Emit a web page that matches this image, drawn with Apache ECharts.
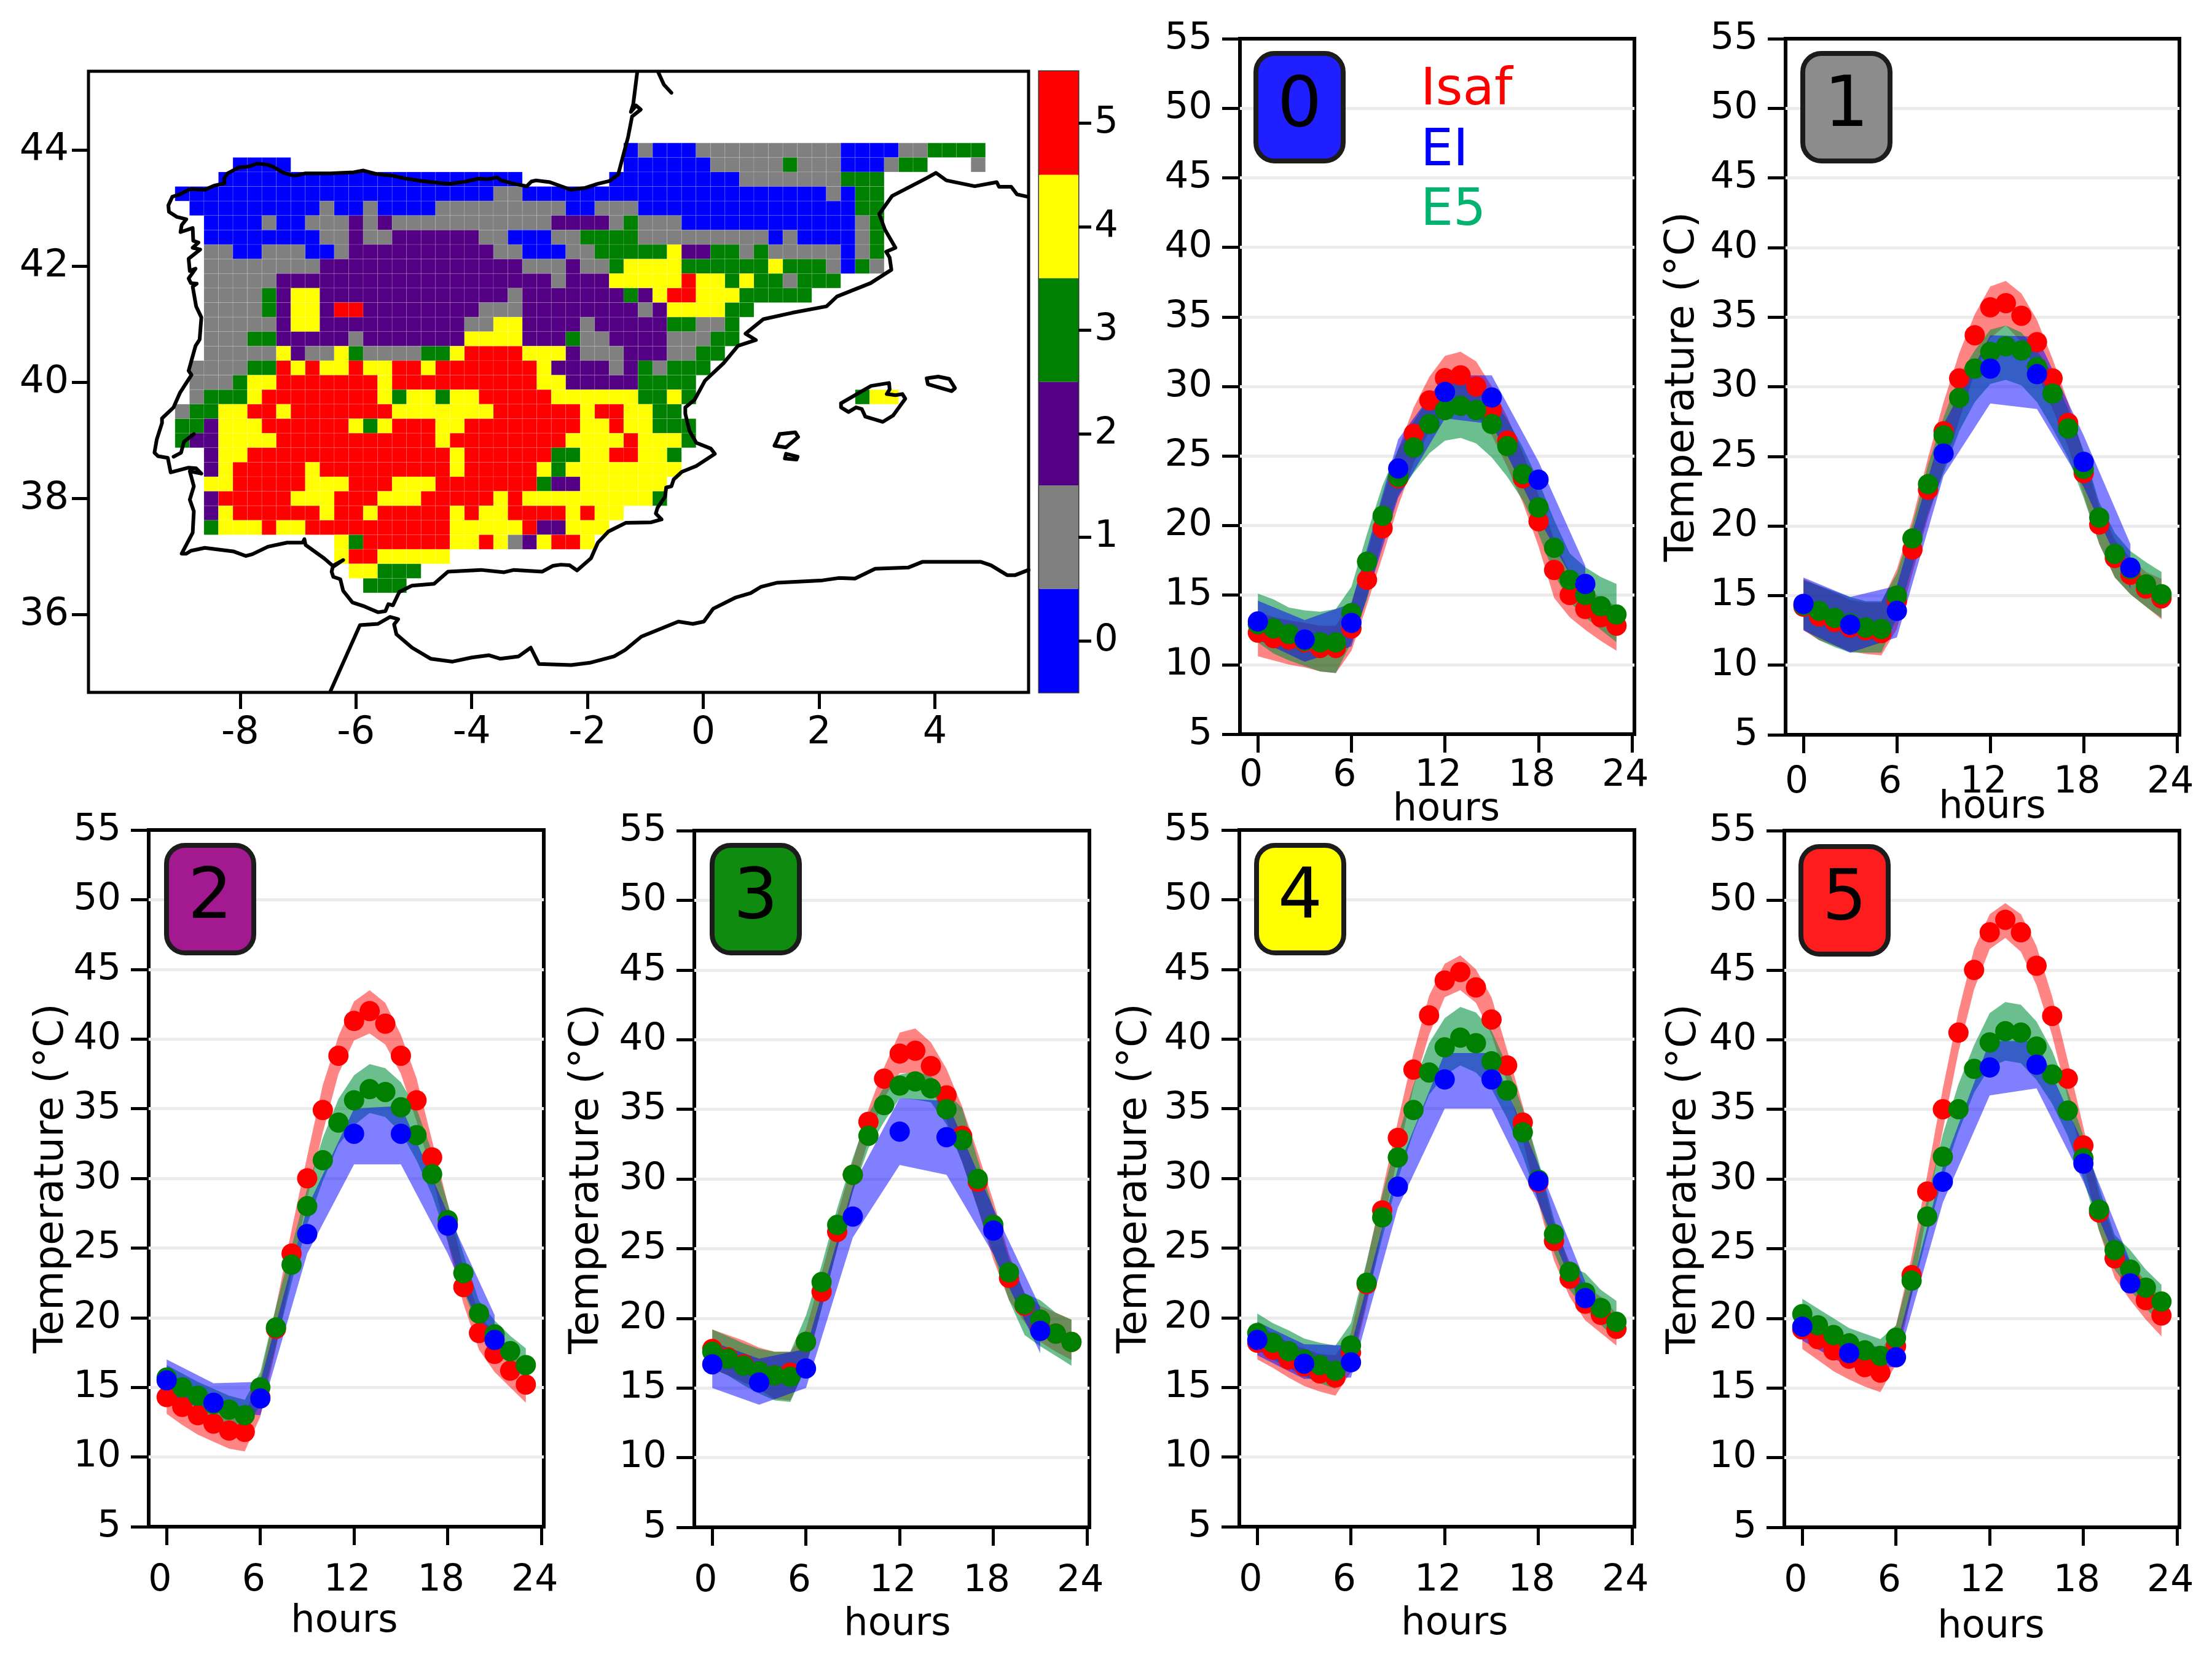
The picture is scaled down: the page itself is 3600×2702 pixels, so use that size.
<!DOCTYPE html>
<html>
<head>
<meta charset="utf-8">
<title>Iberia temperature clusters</title>
<script src="https://cdn.jsdelivr.net/npm/echarts@6/dist/echarts.min.js"></script>
<style>
  html, body { margin: 0; padding: 0; background: #fff; }
  #main { width: 3600px; height: 2702px; }
</style>
</head>
<body>
<div id="main"></div>
<script>
// hours of the day
const hours = [0, 1, 2, 3, 4, 5, 6, 7, 8, 9, 10, 11, 12, 13, 14, 15, 16, 17, 18, 19, 20, 21, 22, 23];
const hoursEI = [0, 3, 6, 9, 12, 15, 18, 21];
const hourTicks = [0, 6, 12, 18, 24];

// cluster 0
const isaf0 = [12.3, 11.9, 11.8, 11.6, 11.2, 11.2, 12.6, 16.1, 19.8, 23.4, 26.6, 29.0, 30.6, 30.8, 30.0, 28.3, 26.1, 23.4, 20.3, 16.8, 15.0, 14.0, 13.4, 12.8];
const isafUp0 = [13.8, 13.4, 13.2, 13.0, 12.8, 12.8, 14.5, 18.0, 22.0, 25.5, 28.5, 30.7, 32.2, 32.5, 31.8, 30.0, 27.8, 25.2, 22.2, 19.0, 16.6, 15.5, 14.8, 14.2];
const isafLo0 = [10.6, 10.3, 10.0, 9.8, 9.5, 9.4, 11.0, 14.3, 17.8, 21.4, 24.5, 26.8, 28.2, 28.6, 28.0, 26.5, 24.2, 21.6, 18.5, 14.8, 13.4, 12.5, 11.7, 11.0];
const e5m0 = [12.9, 12.6, 12.2, 11.7, 11.6, 11.6, 13.7, 17.4, 20.7, 23.5, 25.6, 27.3, 28.3, 28.6, 28.3, 27.3, 25.7, 23.7, 21.3, 18.4, 16.1, 15.0, 14.2, 13.6];
const e5Up0 = [15.1, 14.7, 14.1, 13.9, 13.8, 14.0, 15.6, 19.4, 22.9, 25.5, 27.5, 29.2, 30.2, 30.5, 30.2, 29.2, 27.6, 25.6, 23.2, 20.4, 18.0, 17.0, 16.3, 15.8];
const e5Lo0 = [11.6, 10.8, 10.3, 9.9, 9.5, 9.4, 11.6, 14.7, 18.9, 22.2, 23.8, 25.2, 26.1, 26.3, 25.9, 24.9, 23.5, 21.8, 19.4, 16.5, 14.5, 13.4, 12.5, 11.6];
const ei0 = [13.1, 11.8, 13.0, 24.1, 29.6, 29.2, 23.3, 15.8];
const eiUp0 = [14.6, 13.2, 14.4, 26.2, 30.8, 30.8, 24.6, 17.1];
const eiLo0 = [11.8, 10.2, 11.3, 22.0, 27.7, 27.3, 20.5, 14.5];

// cluster 1
const isaf1 = [14.2, 13.5, 13.1, 12.7, 12.5, 12.3, 14.6, 18.3, 22.6, 26.8, 30.6, 33.7, 35.7, 36.0, 35.1, 33.2, 30.6, 27.4, 23.8, 20.1, 17.7, 16.5, 15.5, 14.8];
const isafUp1 = [16.2, 15.7, 15.2, 14.7, 14.5, 14.5, 16.9, 20.5, 24.9, 28.9, 32.4, 35.2, 37.2, 37.6, 36.7, 34.8, 32.0, 28.9, 25.2, 21.4, 19.0, 17.7, 16.7, 16.2];
const isafLo1 = [12.5, 11.8, 11.4, 11.0, 10.8, 10.7, 12.6, 16.6, 20.6, 24.1, 27.6, 31.0, 33.5, 34.4, 33.2, 31.0, 28.4, 25.7, 22.2, 18.7, 16.3, 15.1, 14.2, 13.3];
const e5m1 = [14.3, 13.9, 13.4, 13.0, 12.7, 12.6, 15.0, 19.1, 23.0, 26.5, 29.2, 31.3, 32.5, 32.9, 32.6, 31.4, 29.5, 27.0, 24.1, 20.6, 18.0, 16.9, 15.8, 15.1];
const e5Up1 = [16.1, 15.7, 15.3, 14.9, 14.6, 14.6, 16.6, 20.1, 24.4, 27.8, 30.8, 32.6, 34.1, 34.4, 33.9, 32.6, 30.9, 28.4, 25.4, 21.7, 19.5, 18.2, 17.4, 16.7];
const e5Lo1 = [12.6, 11.8, 11.3, 10.9, 10.9, 10.9, 13.4, 17.1, 20.9, 23.8, 26.8, 28.9, 30.2, 30.5, 30.1, 28.9, 27.0, 24.9, 22.0, 18.7, 16.3, 15.1, 14.2, 13.4];
const ei1 = [14.4, 12.9, 13.9, 25.2, 31.3, 30.9, 24.6, 17.0];
const eiUp1 = [16.3, 14.9, 15.7, 27.3, 33.7, 33.6, 26.5, 18.7];
const eiLo1 = [12.5, 10.9, 12.0, 23.6, 28.8, 28.4, 22.8, 15.5];

// cluster 2
const isaf2 = [14.3, 13.6, 13.0, 12.4, 11.9, 11.8, 14.3, 19.2, 24.6, 30.0, 34.9, 38.8, 41.3, 42.0, 41.1, 38.8, 35.6, 31.5, 26.7, 22.2, 18.9, 17.4, 16.2, 15.2];
const isafUp2 = [15.6, 15.0, 14.4, 13.8, 13.3, 13.1, 15.7, 20.8, 26.3, 31.6, 36.7, 40.2, 42.7, 43.5, 42.6, 40.3, 37.2, 32.7, 28.2, 23.6, 20.3, 18.8, 17.5, 16.6];
const isafLo2 = [13.1, 12.3, 11.6, 11.1, 10.6, 10.4, 12.9, 17.8, 23.2, 28.5, 33.3, 37.5, 39.9, 40.4, 39.6, 37.5, 34.1, 30.3, 25.4, 21.0, 17.7, 16.1, 15.0, 13.9];
const e5m2 = [15.7, 15.0, 14.4, 13.8, 13.4, 13.0, 15.0, 19.3, 23.8, 28.0, 31.3, 34.0, 35.6, 36.4, 36.2, 35.1, 33.1, 30.3, 27.0, 23.2, 20.3, 18.8, 17.6, 16.6];
const e5Up2 = [16.6, 16.0, 15.4, 14.9, 14.4, 14.1, 16.1, 20.8, 25.1, 29.3, 32.9, 35.7, 37.4, 38.2, 37.9, 36.9, 35.0, 31.9, 28.2, 24.6, 21.2, 19.8, 18.7, 17.8];
const e5Lo2 = [14.6, 14.0, 13.3, 12.8, 12.3, 12.1, 13.7, 18.0, 22.5, 26.7, 29.8, 32.4, 33.8, 34.7, 34.4, 33.3, 31.3, 28.8, 25.5, 21.9, 19.2, 17.8, 16.6, 15.6];
const ei2 = [15.5, 13.9, 14.2, 26.0, 33.2, 33.2, 26.6, 18.4];
const eiUp2 = [17.0, 15.3, 15.4, 27.9, 35.0, 35.2, 27.5, 20.2];
const eiLo2 = [14.4, 13.2, 13.0, 24.6, 31.0, 31.0, 24.6, 17.0];

// cluster 3
const isaf3 = [17.8, 17.2, 16.7, 16.2, 15.9, 16.1, 18.3, 21.9, 26.2, 30.3, 34.1, 37.2, 39.0, 39.2, 38.1, 36.0, 33.1, 29.8, 26.4, 22.9, 20.9, 19.3, 18.9, 18.3];
const isafUp3 = [19.2, 18.8, 18.4, 17.9, 17.6, 17.6, 19.2, 23.2, 27.4, 31.3, 35.0, 38.0, 40.5, 40.8, 39.8, 37.9, 35.2, 31.9, 28.4, 24.6, 21.8, 20.9, 20.4, 19.9];
const isafLo3 = [16.4, 15.9, 15.4, 14.9, 14.2, 14.1, 16.5, 20.7, 25.0, 29.1, 32.8, 35.8, 37.6, 37.6, 36.5, 34.2, 31.2, 27.9, 24.2, 21.3, 19.7, 18.3, 17.6, 17.0];
const e5m3 = [17.6, 17.1, 16.6, 16.2, 15.9, 15.8, 18.3, 22.6, 26.7, 30.3, 33.1, 35.3, 36.7, 37.0, 36.5, 35.0, 32.8, 30.0, 26.7, 23.3, 21.0, 19.9, 18.9, 18.3];
const e5Up3 = [19.2, 18.7, 18.2, 17.8, 17.6, 17.6, 20.2, 23.8, 27.9, 31.5, 34.7, 36.6, 37.5, 37.7, 37.4, 36.2, 35.1, 31.4, 27.9, 24.3, 21.8, 21.3, 20.4, 19.9];
const e5Lo3 = [16.4, 15.9, 15.2, 14.6, 14.1, 14.0, 16.5, 20.7, 25.0, 29.1, 32.2, 34.1, 35.8, 35.7, 35.5, 33.9, 31.2, 27.9, 24.6, 21.3, 18.8, 18.0, 17.3, 16.6];
const ei3 = [16.7, 15.4, 16.4, 27.3, 33.4, 33.0, 26.3, 19.1];
const eiUp3 = [18.3, 17.1, 17.8, 29.5, 35.8, 35.6, 27.9, 20.8];
const eiLo3 = [15.0, 13.8, 15.0, 25.8, 31.0, 30.3, 24.6, 17.5];

// cluster 4
const isaf4 = [18.2, 17.7, 17.0, 16.5, 16.0, 15.7, 17.5, 22.4, 27.7, 32.9, 37.8, 41.7, 44.2, 44.8, 43.7, 41.4, 38.1, 34.0, 29.7, 25.5, 22.8, 21.0, 20.2, 19.2];
const isafUp4 = [19.5, 18.9, 18.2, 17.8, 17.4, 17.3, 18.9, 23.9, 29.1, 34.1, 39.0, 43.1, 45.4, 46.0, 45.0, 43.0, 39.2, 35.2, 31.0, 26.7, 24.0, 22.3, 21.5, 20.3];
const isafLo4 = [17.0, 16.4, 15.7, 15.1, 14.7, 14.4, 16.1, 20.9, 26.3, 31.6, 36.5, 40.3, 43.0, 43.5, 42.6, 40.3, 36.9, 32.7, 28.2, 24.1, 21.5, 19.8, 18.9, 18.0];
const e5m4 = [18.9, 18.2, 17.6, 17.0, 16.6, 16.2, 18.0, 22.5, 27.2, 31.5, 34.9, 37.6, 39.4, 40.1, 39.7, 38.4, 36.3, 33.3, 29.9, 26.0, 23.3, 21.8, 20.7, 19.7];
const e5Up4 = [20.3, 19.6, 19.1, 18.5, 18.2, 18.0, 19.6, 24.0, 28.8, 33.0, 36.7, 39.7, 41.5, 42.3, 41.9, 40.6, 38.1, 35.0, 31.3, 27.1, 23.7, 23.2, 22.0, 21.2];
const e5Lo4 = [17.7, 17.0, 16.4, 15.8, 15.3, 14.9, 16.7, 21.2, 25.7, 29.9, 33.3, 36.0, 37.4, 38.1, 37.6, 36.4, 34.3, 31.6, 28.4, 24.7, 22.0, 20.6, 19.5, 18.4];
const ei4 = [18.4, 16.7, 16.8, 29.4, 37.1, 37.1, 29.8, 21.4];
const eiUp4 = [19.7, 18.1, 18.0, 30.7, 39.0, 39.0, 31.0, 22.6];
const eiLo4 = [17.3, 15.6, 15.7, 27.9, 35.0, 35.0, 28.2, 20.2];

// cluster 5
const isaf5 = [19.2, 18.5, 17.7, 17.1, 16.5, 16.1, 18.0, 23.1, 29.1, 35.0, 40.5, 45.0, 47.7, 48.6, 47.7, 45.3, 41.7, 37.2, 32.4, 27.6, 24.3, 22.7, 21.3, 20.2];
const isafUp5 = [20.6, 19.8, 19.0, 18.4, 18.0, 17.6, 19.5, 24.4, 30.3, 36.5, 42.0, 46.5, 49.0, 49.8, 49.0, 46.7, 43.1, 38.5, 33.7, 28.9, 25.7, 24.1, 22.6, 21.5];
const isafLo5 = [17.8, 17.0, 16.2, 15.6, 15.1, 14.7, 16.7, 21.6, 27.7, 33.5, 39.1, 43.6, 46.5, 47.3, 46.3, 43.9, 40.3, 35.8, 31.1, 26.3, 22.9, 21.3, 19.9, 18.7];
const e5m5 = [20.3, 19.5, 18.8, 18.2, 17.7, 17.3, 18.6, 22.7, 27.3, 31.6, 35.0, 37.9, 39.8, 40.6, 40.5, 39.5, 37.5, 34.9, 31.5, 27.8, 24.9, 23.5, 22.2, 21.2];
const e5Up5 = [21.4, 20.7, 20.0, 19.3, 18.9, 18.5, 19.5, 23.8, 28.6, 33.2, 36.8, 39.6, 41.9, 42.7, 42.5, 41.3, 39.2, 36.3, 33.1, 29.4, 26.0, 24.9, 23.5, 22.4];
const e5Lo5 = [19.0, 18.3, 17.6, 17.0, 16.5, 16.1, 17.6, 21.6, 26.0, 30.1, 33.4, 36.2, 38.0, 38.5, 38.3, 37.1, 35.4, 33.1, 30.0, 26.3, 23.5, 22.0, 20.7, 19.6];
const ei5 = [19.4, 17.5, 17.2, 29.8, 38.0, 38.2, 31.1, 22.5];
const eiUp5 = [20.1, 18.1, 17.9, 30.9, 39.9, 39.9, 32.5, 24.1];
const eiLo5 = [18.4, 16.5, 16.5, 28.3, 36.0, 36.5, 29.8, 21.8];

// map: cluster per 0.25 deg cell, each row lists from,to,cluster runs of column numbers
const firstLon = -9;
const firstLat = 44;
const cellDeg = 0.25;
const mapRows = [
  [31,31,0, 32,32,1, 33,35,0, 36,45,1, 46,49,0, 50,51,1, 52,55,3],
  [4,7,0, 31,36,0, 37,41,1, 42,42,3, 43,45,1, 46,48,0, 49,49,1, 50,51,3, 55,55,1],
  [3,23,0, 30,38,0, 39,45,1, 46,48,3],
  [0,21,0, 22,23,1, 24,44,0, 45,45,1, 46,46,0, 47,48,3],
  [1,9,0, 10,10,1, 11,12,0, 13,13,1, 14,17,0, 18,26,1, 27,28,0, 29,31,1, 32,46,0, 47,48,3],
  [2,5,0, 6,6,1, 7,8,0, 9,11,1, 12,12,2, 13,13,1, 14,14,2, 15,25,1, 26,29,2, 30,30,1, 31,31,3, 32,34,1, 35,46,0, 47,47,1, 48,48,3],
  [2,9,0, 10,11,1, 12,12,2, 13,14,1, 15,20,2, 21,22,1, 23,25,0, 26,27,1, 28,31,3, 32,40,1, 41,41,0, 42,42,1, 43,46,0, 47,47,1, 48,48,3],
  [2,3,1, 4,5,0, 6,8,1, 9,10,0, 11,11,1, 12,21,2, 22,23,1, 24,26,0, 27,28,1, 29,33,3, 34,34,4, 35,36,2, 37,38,3, 39,39,1, 40,40,3, 41,45,1, 46,46,0, 47,47,1, 48,48,3],
  [2,9,1, 10,23,2, 24,26,1, 27,27,2, 28,29,1, 30,30,3, 31,34,4, 35,40,3, 41,41,4, 42,44,3, 45,45,1, 46,46,0, 47,47,3, 48,48,1],
  [2,6,1, 7,25,2, 26,26,1, 27,29,2, 30,34,4, 35,35,5, 36,37,4, 38,38,3, 39,39,4, 40,41,3, 42,42,1, 43,45,3],
  [2,5,1, 6,6,3, 7,7,2, 8,9,4, 10,22,2, 23,23,1, 24,30,2, 31,31,3, 32,32,2, 33,33,4, 34,35,5, 36,38,4, 39,43,3],
  [2,5,1, 6,6,3, 7,7,2, 8,9,4, 10,10,2, 11,12,5, 13,20,2, 21,23,1, 24,31,2, 32,32,1, 33,33,2, 34,37,4, 38,39,3],
  [2,6,1, 7,7,2, 8,9,4, 10,19,2, 20,21,1, 22,23,4, 24,27,2, 28,28,1, 29,33,2, 34,35,3, 36,37,1, 38,38,3],
  [2,4,1, 5,6,3, 7,11,2, 12,12,1, 13,19,2, 20,23,4, 24,26,2, 27,27,3, 28,29,1, 30,33,2, 34,36,1, 37,38,3],
  [2,6,1, 7,7,4, 8,8,2, 9,10,1, 11,11,4, 12,12,3, 13,16,1, 17,18,3, 19,19,4, 20,23,5, 24,26,4, 27,27,2, 28,30,1, 31,33,2, 34,35,1, 36,37,3],
  [1,4,1, 5,6,3, 7,7,5, 8,8,4, 9,9,5, 10,11,4, 12,12,5, 13,14,4, 15,16,5, 17,17,4, 18,24,5, 25,25,4, 26,29,2, 30,30,1, 31,31,2, 32,32,3, 33,33,1, 34,36,3],
  [1,3,1, 4,4,3, 5,6,4, 7,13,5, 14,14,4, 15,24,5, 25,26,4, 27,31,2, 32,35,3],
  [1,1,1, 2,4,3, 5,5,4, 6,13,5, 14,14,4, 15,15,3, 16,17,4, 18,18,3, 19,20,4, 21,25,5, 26,31,4, 32,33,3, 34,34,4, 35,35,3, 47,47,3, 48,49,4],
  [0,0,1, 1,2,3, 3,4,4, 5,6,5, 7,7,4, 8,14,5, 15,21,4, 22,27,5, 28,28,4, 29,30,5, 31,32,4, 33,34,3],
  [0,1,3, 2,2,2, 3,5,4, 6,11,5, 12,12,4, 13,13,3, 14,14,4, 15,17,5, 18,19,4, 20,27,5, 28,29,4, 30,30,5, 31,32,4, 33,35,3],
  [0,0,3, 1,2,2, 3,6,4, 7,17,5, 18,18,4, 19,26,5, 27,30,4, 31,31,5, 32,34,4, 35,35,3],
  [2,2,2, 3,4,4, 5,18,5, 19,19,4, 20,25,5, 26,27,3, 28,29,4, 30,31,5, 32,33,4, 34,34,3],
  [2,2,2, 3,3,4, 4,8,5, 9,9,4, 10,18,5, 19,19,4, 20,24,5, 25,25,4, 26,26,3, 27,34,4],
  [2,3,4, 4,8,5, 9,11,4, 12,14,5, 15,17,4, 18,24,5, 25,25,3, 26,27,2, 28,33,4],
  [2,2,2, 3,7,5, 8,10,4, 11,13,5, 14,16,4, 17,21,5, 22,22,4, 23,23,5, 24,32,4, 33,33,3],
  [2,2,2, 3,3,4, 4,9,5, 10,10,4, 11,12,5, 13,13,4, 14,18,5, 19,19,4, 20,20,5, 21,22,4, 23,26,5, 27,27,4, 28,28,5, 29,30,4],
  [2,2,3, 3,5,4, 6,6,5, 7,8,4, 9,18,5, 19,23,4, 24,24,5, 25,26,2, 27,29,4],
  [11,11,4, 12,12,3, 13,18,5, 19,20,4, 21,21,5, 22,22,4, 23,23,1, 24,24,2, 25,25,4, 26,27,5, 28,28,4],
  [11,11,4, 12,13,5, 14,18,4],
  [12,13,4, 14,16,3],
  [13,15,3]
];

// coast lines, lon/lat
const iberiaCoast = [[-1.14,45.35],[-1.21,44.79],[-1.25,44.66],[-1.16,44.77],[-1.08,44.70],[-1.23,44.58],[-1.30,44.22],[-1.38,43.92],[-1.47,43.58],[-1.62,43.47],[-1.83,43.42],[-2.04,43.35],[-2.29,43.32],[-2.54,43.41],[-2.65,43.45],[-2.89,43.48],[-2.97,43.46],[-3.05,43.38],[-3.30,43.43],[-3.49,43.48],[-3.56,43.53],[-3.73,43.50],[-3.89,43.51],[-4.10,43.46],[-4.38,43.42],[-4.59,43.44],[-4.87,43.47],[-5.13,43.51],[-5.36,43.56],[-5.65,43.59],[-5.87,43.65],[-6.04,43.62],[-6.44,43.60],[-6.87,43.60],[-7.07,43.56],[-7.25,43.61],[-7.42,43.71],[-7.52,43.75],[-7.71,43.77],[-7.85,43.72],[-8.03,43.70],[-8.22,43.60],[-8.28,43.50],[-8.27,43.43],[-8.45,43.39],[-8.61,43.32],[-8.87,43.33],[-9.04,43.24],[-9.17,43.20],[-9.24,43.05],[-9.23,42.94],[-9.09,42.85],[-8.93,42.81],[-9.01,42.71],[-9.03,42.59],[-8.82,42.66],[-8.81,42.44],[-8.72,42.41],[-8.82,42.32],[-8.69,42.29],[-8.89,42.13],[-8.87,41.92],[-8.77,41.96],[-8.89,41.79],[-8.85,41.71],[-8.75,41.70],[-8.82,41.65],[-8.76,41.31],[-8.67,41.12],[-8.70,40.74],[-8.77,40.63],[-8.89,40.20],[-8.84,40.13],[-9.04,39.82],[-9.15,39.57],[-9.35,39.38],[-9.35,39.30],[-9.44,39.02],[-9.48,38.79],[-9.42,38.73],[-9.25,38.70],[-9.20,38.45],[-8.90,38.53],[-8.76,38.52],[-8.67,38.43],[-8.87,38.47],[-8.80,38.21],[-8.87,37.98],[-8.80,37.78],[-8.82,37.41],[-9.01,37.05],[-8.93,37.05],[-8.85,37.10],[-8.61,37.15],[-8.12,37.09],[-7.90,37.01],[-7.79,37.04],[-7.52,37.17],[-7.19,37.24],[-6.92,37.24],[-6.89,37.30],[-6.87,37.20],[-6.55,36.97],[-6.40,36.84],[-6.22,36.94],[-6.40,36.82],[-6.42,36.74],[-6.39,36.65],[-6.27,36.61],[-6.22,36.41],[-6.06,36.21],[-5.85,36.14],[-5.62,36.04],[-5.49,36.06],[-5.44,36.18],[-5.36,36.16],[-5.25,36.39],[-5.03,36.50],[-4.65,36.53],[-4.41,36.74],[-3.84,36.77],[-3.44,36.73],[-3.27,36.77],[-2.78,36.74],[-2.60,36.84],[-2.46,36.86],[-2.31,36.85],[-2.18,36.76],[-1.94,36.97],[-1.82,37.24],[-1.64,37.43],[-1.34,37.58],[-0.90,37.59],[-0.72,37.64],[-0.82,37.74],[-0.79,37.84],[-0.66,38.03],[-0.64,38.19],[-0.55,38.21],[-0.51,38.33],[-0.37,38.46],[-0.12,38.56],[0.20,38.77],[0.13,38.86],[-0.12,38.96],[-0.24,39.17],[-0.31,39.46],[-0.31,39.57],[-0.15,39.70],[0.03,40.03],[0.35,40.33],[0.60,40.63],[0.91,40.73],[0.73,40.84],[1.04,41.09],[1.54,41.20],[2.13,41.31],[2.31,41.48],[2.89,41.71],[3.25,41.94],[3.22,42.15],[3.16,42.25],[3.32,42.32],[3.14,42.63],[3.04,42.90],[3.26,43.21],[3.86,43.52],[4.02,43.61],[4.20,43.48],[4.69,43.38],[5.07,43.45],[5.11,43.37],[5.32,43.37],[5.42,43.24],[5.60,43.20]];
const girondeCoast = [[-0.78,45.35],[-0.68,45.13],[-0.55,44.99]];
const tagusCoast = [[-9.15,38.72],[-9.02,38.79],[-8.97,38.98],[-8.80,39.11]];
const africaCoast = [[-6.44,34.68],[-5.93,35.82],[-5.62,35.84],[-5.41,35.96],[-5.27,35.92],[-5.34,35.83],[-5.30,35.66],[-5.03,35.43],[-4.71,35.24],[-4.33,35.19],[-4.00,35.26],[-3.70,35.30],[-3.51,35.24],[-3.19,35.28],[-2.98,35.43],[-2.84,35.15],[-2.28,35.13],[-1.96,35.17],[-1.54,35.28],[-1.35,35.39],[-1.07,35.62],[-0.43,35.88],[-0.18,35.84],[0.01,35.88],[0.17,36.10],[0.55,36.29],[0.82,36.37],[1.00,36.48],[1.28,36.55],[2.06,36.59],[2.34,36.63],[2.62,36.62],[2.97,36.79],[3.54,36.81],[3.79,36.91],[4.79,36.91],[4.97,36.85],[5.25,36.68],[5.39,36.68],[5.62,36.77]];
const mallorcaCoast = [[2.38,39.64],[2.90,39.94],[3.21,39.99],[3.22,39.88],[3.17,39.80],[3.32,39.78],[3.44,39.80],[3.49,39.72],[3.28,39.43],[3.10,39.32],[2.80,39.41],[2.74,39.54],[2.64,39.57],[2.51,39.49],[2.38,39.57],[2.38,39.64]];
const menorcaCoast = [[3.86,40.07],[4.06,40.10],[4.25,40.06],[4.35,39.90],[4.29,39.85],[3.88,39.97],[3.86,40.07]];
const ibizaCoast = [[1.32,39.11],[1.59,39.14],[1.64,39.06],[1.43,38.88],[1.23,38.91],[1.28,39.01],[1.32,39.11]];
const formenteraCoast = [[1.43,38.77],[1.63,38.72],[1.61,38.67],[1.41,38.69],[1.43,38.77]];

const clusterColors = ['#0000ff', '#808080', '#530084', '#008000', '#ffff00', '#ff0000'];
const clusterLevels = [0, 1, 2, 3, 4, 5];
const lonTicks = [-8, -6, -4, -2, 0, 2, 4];
const latTicks = [36, 38, 40, 42, 44];

const legendNames = ['Isaf', 'EI', 'E5'];
const legendColors = ['#ff0000', '#0000ff', '#00b36e'];

const FONT = '"DejaVu Sans"';
const bandRed = 'rgba(255,0,0,0.48)';
const bandGreen = 'rgba(0,145,60,0.58)';
const bandBlue = 'rgba(0,0,255,0.5)';

// one entry per panel: the data plus where it sits on the page
const panels = [
  { id: 0, left: 2018, right: 2660, top: 63, bottom: 1195, box: '#1f1fff', boxX: 2044, boxY: 87, labelGap: 38, hoursGap: 93, hoursDx: 15,
    isaf: isaf0, isafUp: isafUp0, isafLo: isafLo0, e5: e5m0, e5Up: e5Up0, e5Lo: e5Lo0, ei: ei0, eiUp: eiUp0, eiLo: eiLo0 },
  { id: 1, left: 2906, right: 3547, top: 63, bottom: 1196, box: '#8c8c8c', boxX: 2934, boxY: 87, labelGap: 48, hoursGap: 88, hoursDx: 16, nameGap: 134,
    isaf: isaf1, isafUp: isafUp1, isafLo: isafLo1, e5: e5m1, e5Up: e5Up1, e5Lo: e5Lo1, ei: ei1, eiUp: eiUp1, eiLo: eiLo1 },
  { id: 2, left: 242, right: 885, top: 1351, bottom: 2485, box: '#a3198f', boxX: 271, boxY: 1376, labelGap: 58, hoursGap: 124, hoursDx: -3, nameGap: 124,
    isaf: isaf2, isafUp: isafUp2, isafLo: isafLo2, e5: e5m2, e5Up: e5Up2, e5Lo: e5Lo2, ei: ei2, eiUp: eiUp2, eiLo: eiLo2 },
  { id: 3, left: 1130, right: 1773, top: 1352, bottom: 2486, box: '#0f8c0f', boxX: 1159, boxY: 1376, labelGap: 58, hoursGap: 128, hoursDx: 9, nameGap: 141,
    isaf: isaf3, isafUp: isafUp3, isafLo: isafLo3, e5: e5m3, e5Up: e5Up3, e5Lo: e5Lo3, ei: ei3, eiUp: eiUp3, eiLo: eiLo3 },
  { id: 4, left: 2017, right: 2660, top: 1351, bottom: 2485, box: '#ffff00', boxX: 2045, boxY: 1376, labelGap: 58, hoursGap: 128, hoursDx: 29, nameGap: 136,
    isaf: isaf4, isafUp: isafUp4, isafLo: isafLo4, e5: e5m4, e5Up: e5Up4, e5Lo: e5Lo4, ei: ei4, eiUp: eiUp4, eiLo: eiLo4 },
  { id: 5, left: 2904, right: 3547, top: 1352, bottom: 2486, box: '#ff1c1c', boxX: 2931, boxY: 1378, labelGap: 58, hoursGap: 132, hoursDx: 15, nameGap: 129,
    isaf: isaf5, isafUp: isafUp5, isafLo: isafLo5, e5: e5m5, e5Up: e5Up5, e5Lo: e5Lo5, ei: ei5, eiUp: eiUp5, eiLo: eiLo5 }
];

const MAP_GRID = 6;
const CBAR_GRID = 7;

function pairs(xs, ys) {
  return xs.map((x, i) => [x, ys[i]]);
}

// whole band is one polygon, so it is drawn once, on the first datum
function bandSeries(i, xs, up, lo, color) {
  return {
    type: 'custom',
    xAxisIndex: i,
    yAxisIndex: i,
    silent: true,
    data: xs.map((x, k) => [x, up[k], lo[k]]),
    encode: { x: 0, y: [1, 2] },
    renderItem: (params, api) => {
      if (params.dataIndex !== 0) return null;
      const points = [];
      xs.forEach((x, k) => points.push(api.coord([x, up[k]])));
      for (let k = xs.length - 1; k >= 0; k--) points.push(api.coord([xs[k], lo[k]]));
      return { type: 'polygon', shape: { points }, style: { fill: color } };
    }
  };
}

function dots(i, xs, ys, color) {
  return {
    type: 'scatter',
    xAxisIndex: i,
    yAxisIndex: i,
    silent: true,
    symbolSize: 33,
    itemStyle: { color, opacity: 1 },
    data: pairs(xs, ys)
  };
}

function coast(points) {
  return {
    type: 'line',
    xAxisIndex: MAP_GRID,
    yAxisIndex: MAP_GRID,
    silent: true,
    showSymbol: false,
    clip: true,
    z: 5,
    lineStyle: { color: '#000', width: 6, join: 'round', cap: 'round' },
    data: points
  };
}

const cells = [];
mapRows.forEach((runs, r) => {
  for (let k = 0; k < runs.length; k += 3) {
    for (let c = runs[k]; c <= runs[k + 1]; c++) {
      cells.push([firstLon + c * cellDeg, firstLat - r * cellDeg, runs[k + 2]]);
    }
  }
});

const grids = [];
const xAxes = [];
const yAxes = [];
const series = [];
const graphics = [];

panels.forEach((p, i) => {
  grids.push({
    show: true,
    left: p.left,
    top: p.top,
    width: p.right - p.left,
    height: p.bottom - p.top,
    borderColor: '#000',
    borderWidth: 6,
    backgroundColor: '#fff'
  });
  xAxes.push({
    type: 'value',
    gridIndex: i,
    min: -1.15,
    max: 24.15,
    name: 'hours',
    nameLocation: 'middle',
    nameGap: p.hoursGap,
    nameMoveOverlap: false,
    nameTextStyle: { fontFamily: FONT, fontSize: 62, color: '#000', padding: p.hoursDx > 0 ? [0, 0, 0, 2 * p.hoursDx] : [0, -2 * p.hoursDx, 0, 0] },
    splitLine: { show: false },
    axisLine: { show: false, onZero: false },
    axisTick: { show: true, length: 30, customValues: hourTicks, lineStyle: { color: '#000', width: 5 } },
    axisLabel: { show: true, margin: p.labelGap, padding: [0, 22, 0, 0], customValues: hourTicks, fontFamily: FONT, fontSize: 60, color: '#000' }
  });
  yAxes.push({
    type: 'value',
    gridIndex: i,
    min: 5,
    max: 55,
    interval: 5,
    name: p.nameGap ? 'Temperature (°C)' : '',
    nameLocation: 'middle',
    nameGap: p.nameGap || 0,
    nameMoveOverlap: false,
    nameTextStyle: { fontFamily: FONT, fontSize: 66, color: '#000' },
    splitLine: { show: true, showMinLine: false, showMaxLine: false, lineStyle: { color: '#ebebeb', width: 5 } },
    axisLine: { show: false, onZero: false },
    axisTick: { show: true, length: 29, lineStyle: { color: '#000', width: 5 } },
    axisLabel: { show: true, margin: 45, fontFamily: FONT, fontSize: 61, color: '#000' }
  });

  series.push(bandSeries(i, hours, p.isafUp, p.isafLo, bandRed));
  series.push(bandSeries(i, hours, p.e5Up, p.e5Lo, bandGreen));
  series.push(bandSeries(i, hoursEI, p.eiUp, p.eiLo, bandBlue));
  series.push(dots(i, hours, p.isaf, '#ff0000'));
  series.push(dots(i, hours, p.e5, '#008000'));
  series.push(dots(i, hoursEI, p.ei, '#0000ff'));

  graphics.push({
    type: 'rect',
    z: 20,
    shape: { x: p.boxX, y: p.boxY, width: 142, height: 175, r: 30 },
    style: { fill: p.box, stroke: '#1c1c1c', lineWidth: 8 }
  });
  graphics.push({
    type: 'text',
    z: 21,
    x: p.boxX + 71,
    y: p.boxY + 88,
    style: { text: String(p.id), fontFamily: FONT, fontSize: 114, fill: '#000', align: 'center', verticalAlign: 'middle' }
  });
});

// map panel
grids.push({ show: true, left: 144, top: 116, width: 1530, height: 1011, borderColor: '#000', borderWidth: 5, backgroundColor: '#fff' });
xAxes.push({
  type: 'value',
  gridIndex: MAP_GRID,
  min: -10.62,
  max: 5.62,
  splitLine: { show: false },
  axisLine: { show: false, onZero: false },
  axisTick: { show: true, length: 27, customValues: lonTicks, lineStyle: { color: '#000', width: 5 } },
  axisLabel: { show: true, margin: 36, customValues: lonTicks, fontFamily: FONT, fontSize: 62, color: '#000' }
});
yAxes.push({
  type: 'value',
  gridIndex: MAP_GRID,
  min: 34.66,
  max: 45.36,
  splitLine: { show: false },
  axisLine: { show: false, onZero: false },
  axisTick: { show: true, length: 27, customValues: latTicks, lineStyle: { color: '#000', width: 5 } },
  axisLabel: { show: true, margin: 32, customValues: latTicks, fontFamily: FONT, fontSize: 63, color: '#000' }
});
series.push({
  type: 'custom',
  xAxisIndex: MAP_GRID,
  yAxisIndex: MAP_GRID,
  silent: true,
  z: 3,
  data: cells,
  encode: { x: 0, y: 1 },
  renderItem: (params, api) => {
    const lon = api.value(0);
    const lat = api.value(1);
    const a = api.coord([lon - cellDeg / 2, lat + cellDeg / 2]);
    const b = api.coord([lon + cellDeg / 2, lat - cellDeg / 2]);
    return {
      type: 'rect',
      shape: { x: a[0], y: a[1], width: b[0] - a[0], height: b[1] - a[1] },
      style: { fill: clusterColors[api.value(2)], stroke: 'rgba(255,255,255,0.14)', lineWidth: 1 }
    };
  }
});
[iberiaCoast, girondeCoast, tagusCoast, africaCoast, mallorcaCoast, menorcaCoast, ibizaCoast, formenteraCoast].forEach((c) => series.push(coast(c)));

// colour bar
grids.push({ show: true, left: 1691, top: 116, width: 64, height: 1011, borderColor: '#333', borderWidth: 3, backgroundColor: '#fff' });
xAxes.push({ type: 'value', gridIndex: CBAR_GRID, min: 0, max: 1, show: false });
yAxes.push({
  type: 'value',
  gridIndex: CBAR_GRID,
  position: 'right',
  min: -0.5,
  max: 5.5,
  splitLine: { show: false },
  axisLine: { show: false, onZero: false },
  axisTick: { show: true, length: 21, customValues: clusterLevels, lineStyle: { color: '#000', width: 5 } },
  axisLabel: { show: true, margin: 26, padding: [12, 0, 0, 0], customValues: clusterLevels, fontFamily: FONT, fontSize: 61, color: '#000' }
});
series.push({
  type: 'custom',
  xAxisIndex: CBAR_GRID,
  yAxisIndex: CBAR_GRID,
  silent: true,
  data: clusterLevels.map((v) => [0, v]),
  encode: { x: 0, y: 1 },
  renderItem: (params, api) => {
    const v = api.value(1);
    const a = api.coord([0, v + 0.5]);
    const b = api.coord([1, v - 0.5]);
    return {
      type: 'rect',
      shape: { x: a[0], y: a[1], width: b[0] - a[0], height: b[1] - a[1] },
      style: { fill: clusterColors[v] }
    };
  }
});

// series names written inside panel 0
const legendBaselines = [190, 289, 386];
legendNames.forEach((name, k) => {
  graphics.push({
    type: 'text',
    z: 21,
    x: 2312,
    y: legendBaselines[k],
    style: { text: name, fontFamily: FONT, fontSize: 84, fill: legendColors[k], align: 'left', verticalAlign: 'bottom' }
  });
});

const chart = echarts.init(document.getElementById('main'), null, { renderer: 'canvas' });
chart.setOption({
  animation: false,
  backgroundColor: '#fff',
  grid: grids,
  xAxis: xAxes,
  yAxis: yAxes,
  series,
  graphic: graphics
});
</script>
</body>
</html>
